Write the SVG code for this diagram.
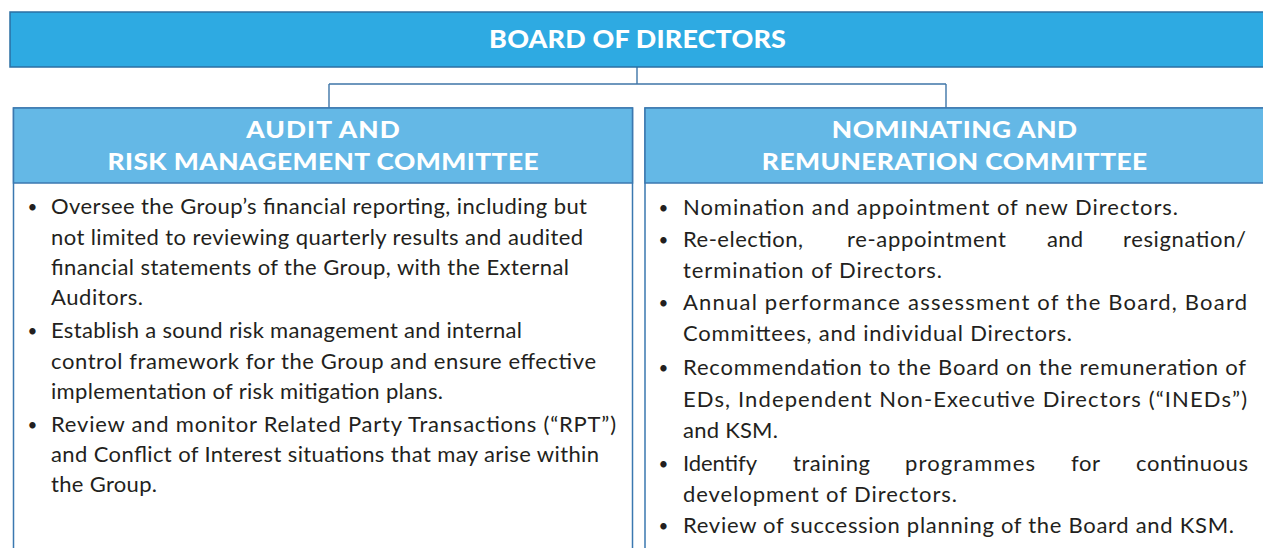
<svg xmlns="http://www.w3.org/2000/svg" width="1263" height="548" viewBox="0 0 1263 548">
  <style>
    .board { fill: #2eaae2; stroke: #2b6fa3; stroke-width: 1.5; }
    .panel { fill: #ffffff; stroke: #3b78b0; stroke-width: 1.5; }
    .band { fill: #64b8e6; stroke: #3b78b0; stroke-width: 1.5; }
    .head { font-family: Lato, "DejaVu Sans", sans-serif; font-weight: 900; fill: #ffffff; text-anchor: middle; }
    .body { font-family: Lato, "Open Sans", sans-serif; font-size: 22px; fill: #231f20; }
    .dot { font-family: Lato, sans-serif; font-size: 17px; fill: #231f20; text-anchor: middle; }
    .link { fill: none; stroke: #3f76a8; stroke-width: 1.4; }
  </style>

  <!-- connectors between the board and its committees -->
  <g id="connectors">
    <path class="link" d="M637 67 V84 M329 84 H946 M329 84 V108 M946 84 V108"/>
  </g>

  <!-- board of directors -->
  <g id="board">
    <rect class="board" x="10" y="12" width="1260" height="55"/>
    <text class="head" transform="translate(637.5 48) scale(1.12 1)" font-size="24" textLength="265" lengthAdjust="spacing">BOARD OF DIRECTORS</text>
  </g>

  <!-- audit and risk management committee -->
  <g id="audit-committee">
    <rect class="panel" x="13.5" y="108" width="619" height="460"/>
    <rect class="band" x="13.5" y="108" width="619" height="75"/>
    <text class="head" transform="translate(323 138) scale(1.12 1)" font-size="23.5" textLength="137" lengthAdjust="spacing">AUDIT AND</text>
    <text class="head" transform="translate(323 170) scale(1.12 1)" font-size="23.5" textLength="385" lengthAdjust="spacing">RISK MANAGEMENT COMMITTEE</text>
    <g class="dot">
      <text x="32.5" y="213">•</text>
      <text x="32.5" y="337">•</text>
      <text x="32.5" y="431">•</text>
    </g>
    <g class="body" lengthAdjust="spacing">
      <text x="51" y="214" textLength="536">Oversee the Group’s financial reporting, including but</text>
      <text x="51" y="245" textLength="532">not limited to reviewing quarterly results and audited</text>
      <text x="51" y="275" textLength="518">financial statements of the Group, with the External</text>
      <text x="51" y="305" textLength="92">Auditors.</text>
      <text x="51" y="338" textLength="471">Establish a sound risk management and internal</text>
      <text x="51" y="369" textLength="545">control framework for the Group and ensure effective</text>
      <text x="51" y="399" textLength="392">implementation of risk mitigation plans.</text>
      <text x="51" y="432" textLength="565">Review and monitor Related Party Transactions (“RPT”)</text>
      <text x="51" y="462" textLength="548">and Conflict of Interest situations that may arise within</text>
      <text x="51" y="492" textLength="106">the Group.</text>
    </g>
  </g>

  <!-- nominating and remuneration committee -->
  <g id="nominating-committee">
    <rect class="panel" x="645" y="108" width="630" height="460"/>
    <rect class="band" x="645" y="108" width="630" height="75"/>
    <text class="head" transform="translate(954.5 138) scale(1.12 1)" font-size="23.5" textLength="219" lengthAdjust="spacing">NOMINATING AND</text>
    <text class="head" transform="translate(954.5 170) scale(1.12 1)" font-size="23.5" textLength="344" lengthAdjust="spacing">REMUNERATION COMMITTEE</text>
    <g class="dot">
      <text x="663.5" y="214">•</text>
      <text x="663.5" y="246">•</text>
      <text x="663.5" y="309">•</text>
      <text x="663.5" y="374">•</text>
      <text x="663.5" y="470">•</text>
      <text x="663.5" y="532">•</text>
    </g>
    <g class="body" lengthAdjust="spacing">
      <text x="683" y="215" textLength="495">Nomination and appointment of new Directors.</text>
      <text x="683" y="247" textLength="120">Re-election,</text>
      <text x="847" y="247" textLength="159">re-appointment</text>
      <text x="1047" y="247" textLength="36">and</text>
      <text x="1123" y="247" textLength="123">resignation/</text>
      <text x="683" y="278" textLength="259">termination of Directors.</text>
      <text x="683" y="310" textLength="564">Annual performance assessment of the Board, Board</text>
      <text x="683" y="341" textLength="389">Committees, and individual Directors.</text>
      <text x="683" y="375" textLength="563">Recommendation to the Board on the remuneration of</text>
      <text x="683" y="407" textLength="564">EDs, Independent Non-Executive Directors (“INEDs”)</text>
      <text x="683" y="438" textLength="95">and KSM.</text>
      <text x="683" y="471" textLength="74">Identify</text>
      <text x="793" y="471" textLength="77">training</text>
      <text x="905" y="471" textLength="130">programmes</text>
      <text x="1071" y="471" textLength="29">for</text>
      <text x="1136" y="471" textLength="112">continuous</text>
      <text x="683" y="502" textLength="274">development of Directors.</text>
      <text x="683" y="533" textLength="551">Review of succession planning of the Board and KSM.</text>
    </g>
  </g>
</svg>
